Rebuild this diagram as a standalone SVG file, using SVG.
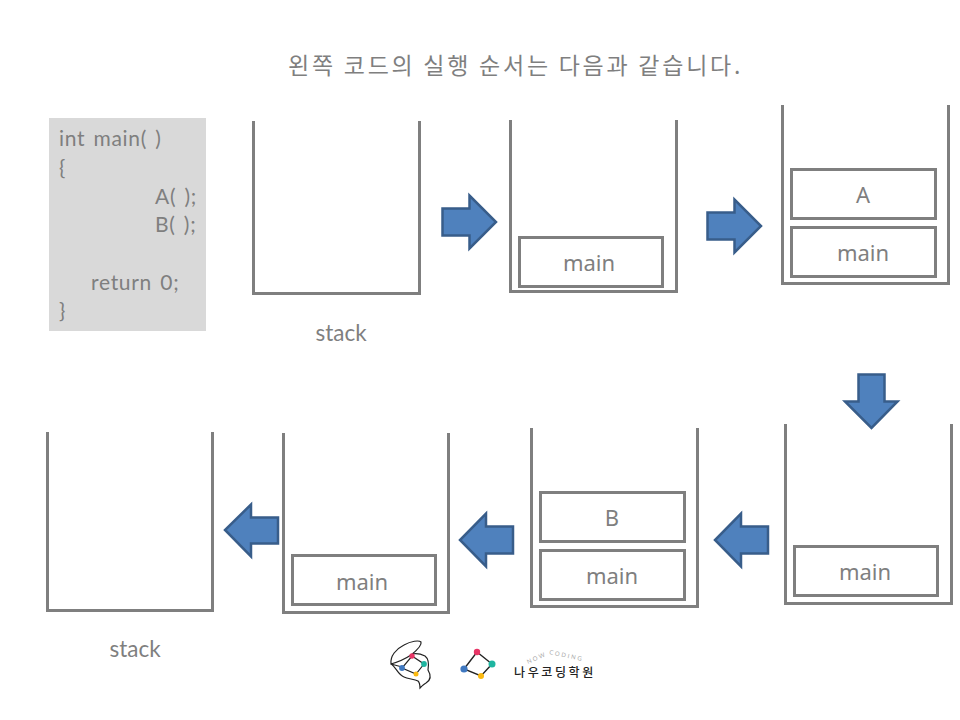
<svg xmlns="http://www.w3.org/2000/svg" width="960" height="720" viewBox="0 0 960 720">
<style>
text{fill:#7f7f7f}
.t{font-family:"Noto Sans CJK KR","Noto Sans",sans-serif;font-size:23px;letter-spacing:2.75px}
.c{font-family:"Lato","Noto Sans",sans-serif;font-size:21px;letter-spacing:.7px;word-spacing:2.2px}
.l{font-family:"Noto Sans","DejaVu Sans",sans-serif;font-size:22px;text-anchor:middle}
.s{font-family:"Lato","Noto Sans",sans-serif;font-size:22.5px;text-anchor:middle}
.stk{fill:none;stroke:#7f7f7f;stroke-width:3}
.box{fill:#fff;stroke:#7f7f7f;stroke-width:3}
.arr{fill:#4f81bd;stroke:#385d8a;stroke-width:2.5}
.ln{fill:none;stroke:#222;stroke-width:1.2}
</style>
<rect width="960" height="720" fill="#fff"/>
<text class="t" x="288" y="74">왼쪽 코드의 실행 순서는 다음과 같습니다.</text>
<g id="code">
<rect x="49" y="118" width="157" height="213" fill="#d9d9d9"/>
<text class="c" x="59" y="146">int main( )</text>
<text class="c" x="59" y="175">{</text>
<text class="c" x="155" y="204">A( );</text>
<text class="c" x="155" y="232">B( );</text>
<text class="c" x="91" y="290">return 0;</text>
<text class="c" x="59" y="318">}</text>
</g>
<g id="stack1"><path class="stk" d="M253.500 121V293.500H419.500V121"/><text class="s" x="341" y="341">stack</text></g>
<g id="stack2"><path class="stk" d="M510.500 120V291.500H676.500V120"/><rect class="box" x="519.500" y="237.500" width="143" height="49"/><text class="l" x="589" y="271">main</text></g>
<g id="stack3"><path class="stk" d="M782.500 105V283.500H948.500V105"/><rect class="box" x="791.500" y="169.500" width="144" height="49"/><text class="l" x="863" y="203">A</text><rect class="box" x="791.500" y="227.500" width="144" height="49"/><text class="l" x="863" y="261">main</text></g>
<g id="stack4"><path class="stk" d="M785.500 424V603.500H951.500V424"/><rect class="box" x="794.500" y="546.500" width="143" height="49"/><text class="l" x="865" y="580">main</text></g>
<g id="stack5"><path class="stk" d="M531.500 428V606.500H697.500V428"/><rect class="box" x="540.500" y="492.500" width="144" height="49"/><text class="l" x="612" y="526">B</text><rect class="box" x="540.500" y="550.500" width="144" height="49"/><text class="l" x="612" y="584">main</text></g>
<g id="stack6"><path class="stk" d="M283.500 433V612.500H448.500V433"/><rect class="box" x="292.500" y="555.500" width="143" height="49"/><text class="l" x="362" y="590">main</text></g>
<g id="stack7"><path class="stk" d="M47.500 432V610.500H212.500V432"/><text class="s" x="135" y="657">stack</text></g>
<g id="connectors">
<path class="arr" d="M442.500 208.500H469.500V195.500L496 222L469.500 248.500V235.500H442.500Z"/>
<path class="arr" d="M707.500 212.500H734.500V199.500L761 226L734.500 252.500V239.500H707.500Z"/>
<path class="arr" d="M858.500 374.500H884.500V401.500H897.500L871.500 428L845 401.500H858.500Z"/>
<path class="arr" d="M768 526.500H741V513.500L715 540L741 566.500V553.500H768Z"/>
<path class="arr" d="M513 526.500H486V513.500L460 540L486 566.500V553.500H513Z"/>
<path class="arr" d="M278 517.500H251V504.500L225 530L251 556.500V543.500H278Z"/>
</g>
<g id="logo">
<path class="ln" d="M391 664C390 656 396 649 404 645C411 641 419 640 421 642C422 645 416 651 411 655C405 659 398 662 391 664ZM391 664C396 667 398 675 404 677C408 679 414 679 418 681C420 683 420 686 420 688C422 686 424 684 426 683C431 680 431 675 428 670C429 664 429 659 425 656C421 654 417 653 412 654M391 664L402 667"/>
<path class="ln" d="M412 656L424 664L416 674L402 668Z"/>
<circle cx="412" cy="656" r="2.7" fill="#e73566"/><circle cx="424" cy="664" r="2.9" fill="#1eb5a0"/><circle cx="416" cy="674" r="2.5" fill="#fbb90f"/><circle cx="402" cy="668" r="2.9" fill="#3f78c0"/>
<path d="M477 652L492 664L481 676L464 669Z" fill="none" stroke="#222" stroke-width="1.4"/>
<circle cx="477" cy="652" r="3.200" fill="#e73566"/><circle cx="492" cy="664" r="3.500" fill="#1eb5a0"/><circle cx="481" cy="676" r="3" fill="#fbb90f"/><circle cx="464" cy="669" r="3.600" fill="#3f78c0"/>
<text x="528" y="664" font-family="Lato,sans-serif" font-size="6" letter-spacing="1.8" style="fill:#aaa" transform="rotate(-24 528 664)">NOW</text>
<text x="549" y="654" font-family="Lato,sans-serif" font-size="6" letter-spacing="1.8" style="fill:#aaa" transform="rotate(12 549 654)">CODING</text>
<text x="514" y="677" font-family="'Noto Sans CJK KR',sans-serif" font-size="12" font-weight="500" letter-spacing="2.6" style="fill:#222">나우코딩학원</text>
</g>
</svg>
